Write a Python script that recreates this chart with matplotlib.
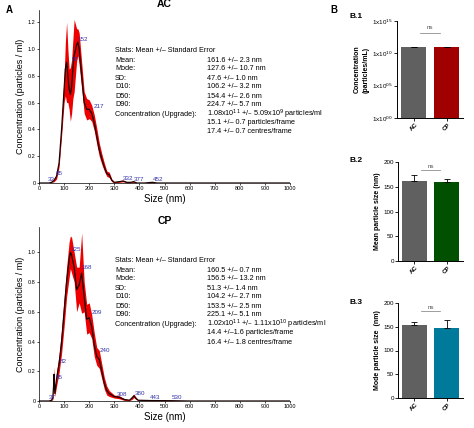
import matplotlib
matplotlib.use("Agg")
import matplotlib.pyplot as plt
import numpy as np

W, H = 474, 428
fig = plt.figure(figsize=(W/100, H/100), dpi=100)
plt.rcParams['font.family'] = ['Liberation Sans', 'DejaVu Sans']

def ax_px(l, t, r, b):
    return fig.add_axes([l/W, 1-b/H, (r-l)/W, (b-t)/H])

# ---- NTA data ----
ac_x = [0,40,50,60,70,80,90,100,105,110,115,120,125,130,135,140,150,155,160,170,180,190,200,210,220,230,240,250,260,270,280,290,300,320,335,350,365,377,390,420,452,470,500,1000]
ac_y = [0,0,0.005,0.02,0.05,0.15,0.4,0.7,0.85,0.9,0.8,0.7,0.66,0.72,0.85,0.95,1.03,1.05,1.0,0.8,0.6,0.55,0.55,0.52,0.45,0.35,0.25,0.18,0.12,0.07,0.06,0.02,0.005,0.01,0.015,0.005,0.005,0.01,0.0,0.0,0.005,0.0,0,0]
ac_e = [0,0,0.002,0.01,0.02,0.03,0.05,0.1,0.2,0.3,0.2,0.15,0.2,0.2,0.22,0.27,0.12,0.1,0.12,0.1,0.08,0.08,0.07,0.06,0.06,0.06,0.05,0.04,0.03,0.02,0.02,0.01,0.003,0.005,0.006,0.003,0.003,0.005,0,0,0.002,0,0,0]
ac_lbl_x = [33, 65, 130, 152, 217, 332, 377, 452]
ac_lbl_y = [0.01, 0.05, 0.9, 1.05, 0.55, 0.015, 0.01, 0.005]
ac_lbl = ["33", "65", "97", "152", "217", "332", "377", "452"]

cp_x = [0,40,50,55,58,60,63,70,80,90,100,110,120,125,130,140,150,160,170,180,190,200,210,220,230,240,250,260,270,280,300,320,340,360,370,378,385,395,443,530,600,1000]
cp_y = [0,0,0.005,0.02,0.1,0.18,0.05,0.15,0.25,0.4,0.6,0.8,0.95,1.0,0.98,0.9,0.75,0.78,0.86,0.7,0.55,0.56,0.5,0.38,0.3,0.28,0.2,0.12,0.07,0.05,0.03,0.025,0.01,0.005,0.02,0.035,0.02,0.005,0.003,0.002,0,0]
cp_e = [0,0,0.002,0.01,0.04,0.05,0.02,0.05,0.06,0.08,0.1,0.1,0.12,0.11,0.12,0.1,0.15,0.12,0.27,0.1,0.1,0.1,0.08,0.08,0.06,0.06,0.05,0.04,0.03,0.02,0.01,0.01,0.006,0.003,0.01,0.012,0.008,0.002,0.001,0.001,0,0]
cp_lbl_x = [37, 65, 82, 125, 168, 209, 240, 308, 380, 443, 530]
cp_lbl_y = [0.01, 0.14, 0.25, 1.0, 0.88, 0.58, 0.32, 0.03, 0.035, 0.005, 0.005]
cp_lbl = ["37", "65", "82", "125", "168", "209", "240", "308", "380", "443", "530"]

D = "\u2013"
ac_stats = [f"161.6 +/{D} 2.3 nm", f"127.6 +/{D} 10.7 nm", f"47.6 +/{D} 1.0 nm", f"106.2 +/{D} 3.2 nm",
            f"154.4 +/{D} 2.6 nm", f"224.7 +/{D} 5.7 nm",
            "1.08x10$^{11}$ +/" + D + " 5.09x10$^{9}$ particles/ml",
            f"15.1 +/{D} 0.7 particles/frame", f"17.4 +/{D} 0.7 centres/frame"]
cp_stats = [f"160.5 +/{D} 0.7 nm", f"156.5 +/{D} 13.2 nm", f"51.3 +/{D} 1.4 nm", f"104.2 +/{D} 2.7 nm",
            f"153.5 +/{D} 2.5 nm", f"225.1 +/{D} 5.1 nm",
            "1.02x10$^{11}$ +/" + D + " 1.11x10$^{10}$ particles/ml",
            f"14.4 +/{D}1.6 particles/frame", f"16.4 +/{D} 1.8 centres/frame"]
stat_names = ["Mean:", "Mode:", "SD:", "D10:", "D50:", "D90:", "Concentration (Upgrade):", "", ""]

def nta(ax, x, y, e, lx, ly, ll, ymax, yt, title):
    x = np.array(x); y = np.array(y); e = np.array(e)
    ax.fill_between(x, np.clip(y-e, 0, None), y+e, color='#ee0000', lw=0)
    ax.plot(x, y, color='#1a0000', lw=0.9)
    for a, b, s in zip(lx, ly, ll):
        ax.text(a, b, s, color='#3333aa', fontsize=4.5, ha='left', va='bottom')
    ax.set_xlim(0, 1000); ax.set_ylim(0, ymax)
    ax.set_xticks(range(0, 1001, 100))
    ax.set_yticks(yt)
    ax.set_yticklabels(["0"] + [f"{v:.1f}" for v in yt[1:]])
    ax.tick_params(labelsize=4, length=1.5, width=0.5, pad=1)
    for s in ['top', 'right']:
        ax.spines[s].set_visible(False)
    for s in ['left', 'bottom']:
        ax.spines[s].set_linewidth(0.5)
    ax.set_xlabel("Size (nm)", fontsize=7, labelpad=2)
    ax.set_ylabel("Concentration (particles / ml)", fontsize=6.5, labelpad=2)
    ax.set_title(title, fontsize=7.5, fontweight='bold', pad=2)

ax1 = ax_px(39, 10, 290, 183)
nta(ax1, ac_x, ac_y, ac_e, ac_lbl_x, ac_lbl_y, ac_lbl, 1.29, [0, 0.2, 0.4, 0.6, 0.8, 1.0, 1.2], "AC")
ax2 = ax_px(39, 227, 290, 401)
nta(ax2, cp_x, cp_y, cp_e, cp_lbl_x, cp_lbl_y, cp_lbl, 1.17, [0, 0.2, 0.4, 0.6, 0.8, 1.0], "CP")

def stats(top, vals):
    fig.text(115/W, 1-top/H, f"Stats: Mean +/{D} Standard Error", fontsize=5.2, va='center')
    for i, (n, v) in enumerate(zip(stat_names, vals)):
        yy = 1-(top+9*(i+1))/H
        fig.text(115/W, yy, n, fontsize=5.2, va='center')
        fig.text(207/W, yy, v, fontsize=5.2, va='center')
stats(51, ac_stats)
stats(261, cp_stats)

fig.text(6/W, 1-10/H, "A", fontsize=7, fontweight='bold', va='center')
fig.text(330/W, 1-10/H, "B", fontsize=7, fontweight='bold', va='center')

# ---- bar panels ----
groups = ["AC", "CP"]
conc = [1.08e11, 1.02e11]
conc_err = [5.09e9, 1.11e10]
mean_size = [161.6, 160.5]
mean_err = [13.0, 6.0]
mode_size = [154.0, 147.0]
mode_err = [6.0, 17.0]

def bars(ax, vals, errs, color2, ylabel, label, ly, log=False):
    ax.bar([0, 1], vals, width=0.78, color=['#606060', color2], yerr=[[0, 0], errs],
           error_kw=dict(lw=0.6, capsize=2, capthick=0.6), edgecolor='none')
    ax.set_xlim(-0.5, 1.5)
    ax.set_xticks([0, 1]); ax.set_xticklabels(groups, rotation=45, fontsize=5, fontweight='bold')
    ax.tick_params(labelsize=4.5, length=2, width=0.6, pad=1)
    for s in ['top', 'right']:
        ax.spines[s].set_visible(False)
    for s in ['left', 'bottom']:
        ax.spines[s].set_linewidth(0.7)
    ax.set_ylabel(ylabel, fontsize=5, fontweight='bold', labelpad=2)
    if log:
        ax.set_yscale('log'); ax.set_ylim(1, 1e15)
        ax.set_yticks([1, 1e5, 1e10, 1e15])
        ax.set_yticklabels([r"1x10$^{00}$", r"1x10$^{05}$", r"1x10$^{10}$", r"1x10$^{15}$"])
        ax.minorticks_off()
        yl = 10**13.2
        ax.plot([0.2, 0.8], [yl, yl], color='#777', lw=0.5)
        ax.text(0.5, yl*3, "ns", fontsize=4.5, ha='center', va='bottom', color='#555')
    else:
        ax.set_ylim(0, 200); ax.set_yticks([0, 50, 100, 150, 200])
        yl = 183
        ax.plot([0.2, 0.8], [yl, yl], color='#777', lw=0.5)
        ax.text(0.5, yl+3, "ns", fontsize=4.5, ha='center', va='bottom', color='#555')
    fig.text(350/W, 1-ly/H, label, fontsize=6, fontweight='bold', va='center')

b1 = ax_px(397, 21, 463, 118)
bars(b1, conc, conc_err, '#a00000', "Concentration\n(particles/mL)", "B.1", 17, log=True)
b2 = ax_px(398, 162, 463, 261)
bars(b2, mean_size, mean_err, '#005000', "Mean particle size (nm)", "B.2", 161)
b3 = ax_px(398, 303, 463, 398)
bars(b3, mode_size, mode_err, '#007a9a', "Mode particle size  (nm)", "B.3", 302)

fig.savefig("out.png", dpi=100)
